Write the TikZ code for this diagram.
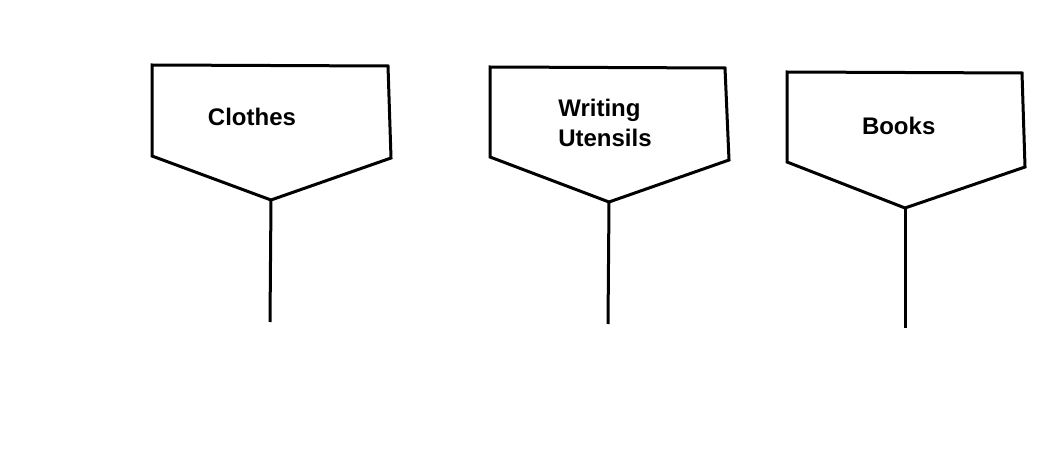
\documentclass[tikz,border=0pt]{standalone}
\usepackage{fontspec}
\setmainfont{Liberation Sans}

\begin{document}
\begin{tikzpicture}[x=1pt,y=-1pt,line width=3pt,line join=miter,
    signtext/.style={font=\bfseries\fontsize{24}{30}\selectfont,align=left}]
    \useasboundingbox (0,0) rectangle (1038,465);
        \foreach \n/\xa/\ya/\xb/\yb/\xc/\yc/\xt/\yt/\xd/\yd/\xf/\yf/\tx/\ty/\lbl in
        {
            a/152/65/388/66/391/158/271/200/152/156/270/322/252/117/{Clothes},
            b/490/67/725/68/729/160/609/202/490/157/608/324/605/123/{Writing\\Utensils},
            c/787/72/1022/73/1025/167/905/208/787/162/905/328/902/126/{Books}
        }
        {
            \coordinate (tl\n) at (\xa,\ya);
            \coordinate (tr\n) at (\xb,\yb);
            \coordinate (br\n) at (\xc,\yc);
            \coordinate (tip\n) at (\xt,\yt);
            \coordinate (bl\n) at (\xd,\yd);
            \coordinate (foot\n) at (\xf,\yf);
            \draw (tl\n) -- (tr\n) -- (br\n) -- (tip\n) -- (bl\n) -- cycle;
            \node[signtext] (label\n) at (\tx,\ty) {\lbl};
            \draw (tip\n) -- (foot\n);
        }
    \end{tikzpicture}
\end{document}
